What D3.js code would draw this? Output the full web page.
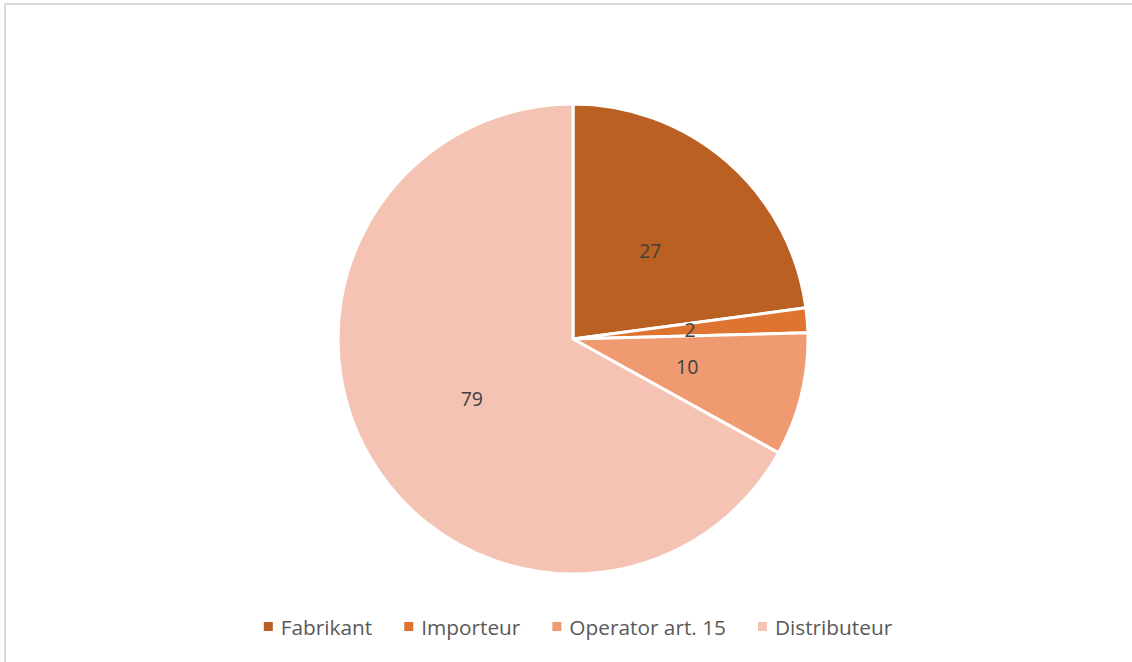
<!DOCTYPE html>
<html>
<head>
<meta charset="utf-8">
<script src="https://cdn.jsdelivr.net/npm/d3@7"></script>
<style>
    body { margin: 0; background: #fff; }
    svg { display: block; font-family: "Open Sans", Lato, sans-serif; }
</style>
</head>
<body>
<div id="piechart"></div>
<script>
// chart data
const categories = ['Fabrikant', 'Importeur', 'Operator art. 15', 'Distributeur'];
const values = [27, 2, 10, 79];
const colors = ['#BA6022', '#DE7430', '#F09A72', '#F5C3B3'];

const width = 1132, height = 662;
const cx = 573, cy = 339, radius = 235;

const svg = d3.select('#piechart').append('svg')
    .attr('width', width)
    .attr('height', height);

// chart area border (only top/left visible in the frame)
svg.append('rect')
    .attr('x', 5).attr('y', 4)
    .attr('width', width + 10).attr('height', height + 10)
    .attr('fill', 'none')
    .attr('stroke', '#d9d9d9')
    .attr('stroke-width', 2);

const data = categories.map((c, i) => ({name: c, value: values[i], color: colors[i]}));

const pie = d3.pie().value(d => d.value).sort(null);
const arc = d3.arc().innerRadius(0).outerRadius(radius);

const g = svg.append('g')
    .attr('transform', 'translate(' + cx + ',' + cy + ')');

const arcs = pie(data);

g.selectAll('path')
    .data(arcs)
    .enter()
    .append('path')
    .attr('d', arc)
    .attr('fill', d => d.data.color)
    .attr('stroke', '#fff')
    .attr('stroke-width', 3)
    .attr('stroke-linejoin', 'round');

g.selectAll('text.pie_label')
    .data(arcs)
    .enter()
    .append('text')
    .attr('class', 'pie_label')
    .text(d => d.data.value)
    .attr('x', d => arc.centroid(d)[0])
    .attr('y', d => arc.centroid(d)[1])
    .attr('text-anchor', 'middle')
    .attr('dominant-baseline', 'central')
    .attr('font-size', 19.5)
    .attr('fill', '#404040');

// legend, centred under the pie
const legend = svg.append('g').attr('class', 'legend');
const items = legend.selectAll('g')
    .data(data)
    .enter()
    .append('g');

items.append('rect')
    .attr('width', 9)
    .attr('height', 9)
    .attr('y', -5)
    .attr('fill', d => d.color);

items.append('text')
    .text(d => d.name)
    .attr('x', 17)
    .attr('dominant-baseline', 'central')
    .attr('font-size', 20.8)
    .attr('fill', '#595959');

let xpos = 0;
items.each(function(d){
    const w = d3.select(this).select('text').node().getComputedTextLength();
    d3.select(this).attr('transform', 'translate(' + xpos + ',0)');
    xpos += 17 + w + 32;
});
const total = xpos - 32;
legend.attr('transform', 'translate(' + (578 - total / 2) + ',627)');
</script>
</body>
</html>
